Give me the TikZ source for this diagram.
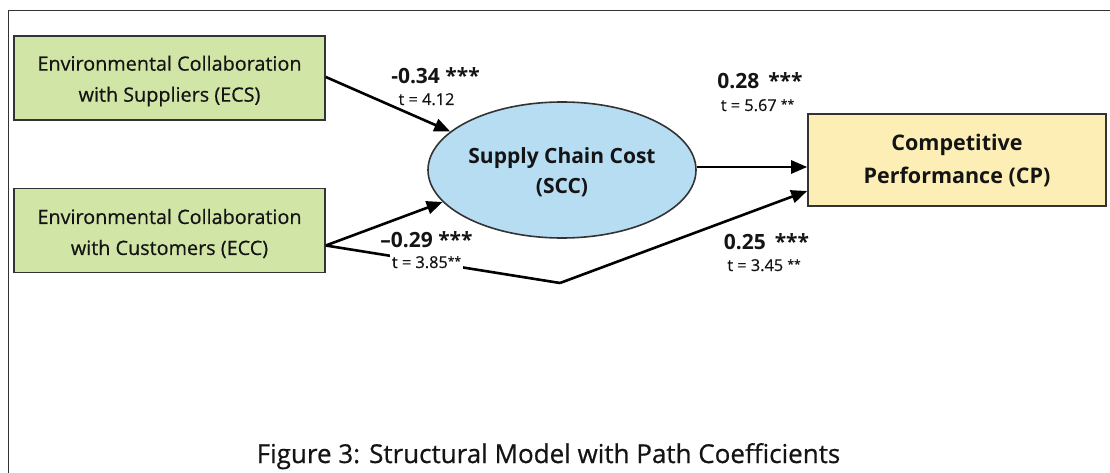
\documentclass[tikz,border=0pt]{standalone}
\usepackage{fontspec}
\setmainfont{Open Sans}[UprightFeatures={FakeBold=0.6}]
\usetikzlibrary{arrows.meta,shapes.geometric}

\definecolor{boxgreen}{HTML}{D1E6A6}
\definecolor{ellblue}{HTML}{B7DDF3}
\definecolor{boxyellow}{HTML}{FCEEB4}
\definecolor{edge}{HTML}{333333}
\definecolor{ink}{HTML}{141414}

\tikzset{
  construct/.style={draw=edge, line width=1.6pt, inner sep=0pt},
  greenbox/.style={construct, fill=boxgreen, minimum width=311pt, minimum height=84pt},
  latent/.style={construct, ellipse, fill=ellblue, minimum width=268pt, minimum height=136pt},
  yellowbox/.style={construct, fill=boxyellow, minimum width=298pt, minimum height=92pt},
  boxtext/.style={align=center, inner sep=0pt, text=ink, font=\fontsize{19.8}{31}\selectfont},
  scctext/.style={align=center, inner sep=0pt, text=ink, font=\fontsize{21}{30}\selectfont\bfseries},
  cptext/.style={align=center, inner sep=0pt, text=ink, font=\fontsize{21.5}{33}\selectfont\bfseries},
  path arrow/.style={line width=2.6pt, -{Triangle[length=16pt,width=13pt]}},
  coef/.style={anchor=base, inner sep=1pt, text=ink, font=\fontsize{21}{21}\selectfont\bfseries},
  tval/.style={anchor=base, fill=white, inner sep=2pt, text=ink, font=\fontsize{16.3}{16}\selectfont},
}
\newcommand{\sig}[1]{\raisebox{0.3ex}{\fontsize{12}{12}\selectfont #1}}

\begin{document}
\begin{tikzpicture}[x=1pt,y=-1pt]
\useasboundingbox (0,0) rectangle (1110,473);
\fill[white] (0,0) rectangle (1110,473);
\draw[line width=1.6pt, edge] (8.5,473) -- (8.5,10.5) -- (1110,10.5);

% constructs
\node[greenbox] (ecs) at (169.5,78) {};
\node[greenbox] (ecc) at (169.5,230.5) {};
\node[latent] (scc) at (562,170) {};
\node[yellowbox] (cp) at (957,160) {};
\node[boxtext] (ecs-text) at ([yshift=-3pt]ecs.center) {Environmental Collaboration\\with Suppliers (ECS)};
\node[boxtext] (ecc-text) at ([yshift=-3pt]ecc.center) {Environmental Collaboration\\with Customers (ECC)};
\node[scctext] (scc-text) at ([yshift=-2.5pt]scc.center) {Supply Chain Cost\\(SCC)};
\node[cptext] (cp-text) at ([yshift=-1pt]cp.center) {Competitive\\Performance (CP)};

% structural paths
\coordinate (bend) at (560,283);
\draw[path arrow] ([yshift=1pt]ecs.east) -- (scc.161);
\draw[path arrow] ([yshift=-15pt]ecc.east) -- (scc.195);
\draw[path arrow] ([yshift=3pt]scc.east) -- ([yshift=3pt]scc.east -| cp.west);
\draw[line width=2.6pt, line join=round] ([yshift=-15pt]ecc.east) -- (bend);
\draw[path arrow] (bend) -- ([yshift=-31pt]cp.west);

% path coefficients
\node[coef] (c1) at (435.5,84) {-0.34 ***};
\node[tval] (t1) at (426.5,105) {t = 4.12};
\node[coef] (c2) at (760,89) {0.28 \,***};
\node[tval] (t2) at (757.5,111) {t = 5.67 \sig{**}};
\node[coef] (c3) at (426.5,247) {–0.29 ***};
\node[tval] (t3) at (426.5,268) {t = 3.85\sig{**}};
\node[coef] (c4) at (766.5,249) {0.25 \,***};
\node[tval] (t4) at (764,271) {t = 3.45 \sig{**}};

% caption
\node[anchor=base, text=ink, font=\fontsize{26}{26}\selectfont] (cap) at (548.5,463)
  {Figure 3: Structural Model with Path Coefficients};
\end{tikzpicture}
\end{document}
